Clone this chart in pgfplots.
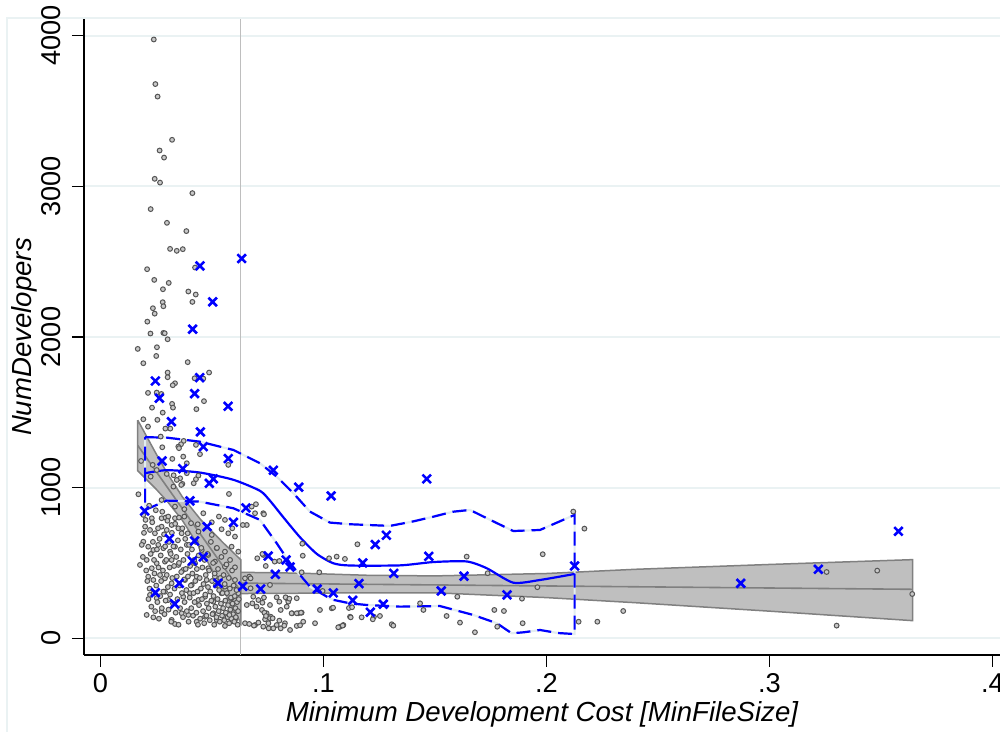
\documentclass[border=0pt]{standalone}
\usepackage{fontspec}
\setmainfont{Liberation Sans}
\usepackage{pgfplots}
\pgfplotsset{compat=1.18}
\definecolor{gridcol}{RGB}{234,242,243}
\definecolor{bandfill}{RGB}{191,191,191}
\definecolor{bandedge}{RGB}{128,128,128}
\definecolor{dotdraw}{RGB}{85,85,85}
\definecolor{dotfill}{RGB}{200,200,200}
\definecolor{vline}{RGB}{190,190,190}
\definecolor{sblue}{RGB}{0,0,255}
\definecolor{gapcol}{RGB}{226,236,240}
\begin{document}
\begin{tikzpicture}
\draw[gridcol, line width=1pt] (-38.5pt,-45pt) -- (-38.5pt,318.5pt) -- (470pt,318.5pt);
\begin{axis}[
  scale only axis, width=458pt, height=318pt,
  xmin=-0.0074, xmax=0.40336, ymin=-111, ymax=4111,
  axis x line*=bottom, axis y line*=left,
  axis line style={black, line width=0.75pt},
  xtick={0,0.1,0.2,0.3,0.4}, xticklabels={0,.1,.2,.3,.4},
  ytick={0,1000,2000,3000,4000}, yticklabels={0,1000,2000,3000,4000},
  tick align=outside, major tick length=6pt,
  tick style={black, line width=0.6pt},
  ymajorgrids, major grid style={gridcol, line width=1pt},
  tick label style={font=\fontsize{13.6}{16}\selectfont},
  xticklabel style={anchor=base, yshift=-13pt},
  yticklabel style={anchor=base, rotate=90, yshift=5.5pt},
  xlabel={Minimum Development Cost [MinFileSize]},
  ylabel={NumDevelopers},
  label style={font=\fontsize{13.8}{16}\selectfont\itshape},
  xlabel style={at={(axis description cs:0.5,-0.1053)}, anchor=base},
  ylabel style={at={(axis description cs:-0.0568,0.5)}, anchor=base, rotate=0},
  clip=false,
]
\draw[vline, line width=0.5pt] (axis cs:0.063,-111) -- (axis cs:0.063,4111);
% linear fit CI bands
\addplot[draw=bandedge, fill=bandfill, line width=0.75pt] coordinates {
(0.0167,1448) (0.025,1223) (0.030,1094) (0.0367,939) (0.045,786) (0.055,634) (0.063,520)
(0.063,100) (0.055,322) (0.045,588) (0.0367,783) (0.030,908) (0.025,989) (0.0167,1112) (0.0167,1448)};
\addplot[draw=bandedge, fill=bandfill, line width=0.75pt] coordinates {
(0.063,438) (0.09,432) (0.12,418) (0.15,414) (0.20,430) (0.24,458) (0.30,490) (0.3642,522)
(0.3642,117) (0.30,180) (0.24,236) (0.20,270) (0.15,302) (0.12,302) (0.09,299) (0.063,297) (0.063,438)};
\addplot[bandedge, line width=0.8pt] coordinates {(0.0167,1280) (0.063,310)};
\addplot[bandedge, line width=0.8pt] coordinates {(0.063,366) (0.3642,325)};
% gray scatter
\addplot[only marks, mark=*, mark size=1.2pt, mark options={draw=dotdraw, fill=dotfill, line width=0.5pt}] table {
x y
0.0239 3975
0.0246 3679
0.0256 3596
0.0321 3309
0.0265 3238
0.0285 3191
0.0243 3050
0.0267 3025
0.0412 2955
0.0225 2849
0.0298 2758
0.0385 2703
0.0312 2585
0.0342 2572
0.0369 2583
0.0424 2461
0.0209 2450
0.0241 2379
0.0306 2359
0.0280 2317
0.0394 2302
0.0427 2282
0.0279 2231
0.0412 2233
0.0235 2191
0.0282 2204
0.0243 2155
0.0210 2102
0.0224 2023
0.0282 2027
0.0288 2025
0.0301 1985
0.0167 1921
0.0253 1932
0.0250 1874
0.0192 1826
0.0391 1833
0.0301 1764
0.0301 1733
0.0334 1693
0.0324 1680
0.0422 1726
0.0461 1724
0.0487 1764
0.0213 1629
0.0273 1622
0.0252 1631
0.0464 1574
0.0231 1531
0.0321 1556
0.0325 1531
0.0430 1521
0.0279 1498
0.0192 1454
0.0255 1450
0.0213 1405
0.0291 1392
0.0313 1392
0.0270 1339
0.0373 1310
0.0361 1288
0.0277 1268
0.0349 1272
0.0352 1262
0.0428 1284
0.0446 1222
0.0371 1206
0.0387 1162
0.0322 1191
0.0182 1177
0.0234 1151
0.0573 1151
0.0225 1073
0.0252 1117
0.0297 1091
0.0387 1096
0.0328 1082
0.0357 1062
0.0342 1051
0.0367 1025
0.0362 1018
0.0327 1007
0.0428 1056
0.0439 1080
0.0418 1029
0.0170 956
0.0576 958
0.0274 918
0.0334 874
0.0376 857
0.0461 830
0.0730 830
0.0192 819
0.0202 786
0.0230 797
0.0274 797
0.0292 801
0.0304 808
0.0334 797
0.0352 801
0.0376 808
0.0406 764
0.0436 757
0.0499 770
0.0531 808
0.0558 786
0.0591 730
0.0200 741
0.0222 719
0.0244 697
0.0274 741
0.0297 719
0.0319 752
0.0349 730
0.0364 697
0.0391 697
0.0439 708
0.0499 686
0.0543 724
0.0573 697
0.0603 675
0.0693 830
0.0192 641
0.0214 608
0.0237 586
0.0259 620
0.0282 598
0.0312 575
0.0334 608
0.0387 620
0.0454 586
0.0483 553
0.0521 598
0.0558 575
0.0588 608
0.0618 575
0.0177 487
0.0207 520
0.0230 465
0.0252 498
0.0289 509
0.0319 520
0.0349 487
0.0371 454
0.0424 498
0.0483 465
0.0513 509
0.0558 475
0.0581 520
0.0603 471
0.0214 409
0.0237 387
0.0267 420
0.0289 398
0.0319 365
0.0379 387
0.0409 354
0.0431 409
0.0476 387
0.0513 409
0.0558 343
0.0603 387
0.0222 288
0.0252 266
0.0289 309
0.0304 254
0.0371 276
0.0401 299
0.0439 254
0.0469 276
0.0506 243
0.0543 299
0.0588 266
0.0618 299
0.0207 155
0.0237 139
0.0274 177
0.0319 122
0.0334 95
0.0394 155
0.0431 110
0.0469 143
0.0506 166
0.0521 122
0.0558 82
0.0603 122
0.0364 166
0.0185 620
0.0190 540
0.0195 700
0.0205 450
0.0210 380
0.0215 260
0.0218 880
0.0220 330
0.0225 560
0.0228 210
0.0232 770
0.0235 640
0.0238 300
0.0240 520
0.0242 430
0.0245 180
0.0248 850
0.0250 350
0.0253 590
0.0255 240
0.0258 730
0.0260 470
0.0262 130
0.0265 660
0.0268 280
0.0270 550
0.0272 380
0.0275 200
0.0277 840
0.0280 450
0.0282 310
0.0285 690
0.0287 160
0.0290 610
0.0292 250
0.0295 520
0.0297 420
0.0300 780
0.0302 340
0.0305 190
0.0307 640
0.0310 470
0.0312 290
0.0315 560
0.0317 110
0.0320 700
0.0322 400
0.0325 230
0.0327 610
0.0330 480
0.0332 330
0.0335 760
0.0337 170
0.0340 540
0.0342 410
0.0345 260
0.0347 650
0.0350 90
0.0352 500
0.0355 350
0.0357 200
0.0360 590
0.0362 440
0.0365 300
0.0367 730
0.0370 140
0.0372 520
0.0375 390
0.0377 240
0.0380 660
0.0382 460
0.0385 320
0.0387 180
0.0390 560
0.0392 410
0.0395 110
0.0397 620
0.0400 270
0.0402 480
0.0405 350
0.0407 200
0.0410 590
0.0412 430
0.0415 150
0.0417 300
0.0420 520
0.0422 240
0.0425 380
0.0427 640
0.0430 170
0.0432 460
0.0435 310
0.0437 90
0.0440 550
0.0442 220
0.0445 400
0.0447 130
0.0450 330
0.0452 600
0.0455 260
0.0457 470
0.0460 180
0.0462 360
0.0465 100
0.0467 520
0.0470 290
0.0472 420
0.0475 150
0.0477 230
0.0480 560
0.0482 340
0.0485 200
0.0487 450
0.0490 120
0.0492 310
0.0495 640
0.0497 250
0.0500 380
0.0502 160
0.0505 500
0.0507 280
0.0510 90
0.0512 430
0.0515 210
0.0517 350
0.0520 140
0.0522 600
0.0525 260
0.0527 460
0.0530 180
0.0532 320
0.0535 110
0.0537 400
0.0540 230
0.0542 540
0.0545 150
0.0547 300
0.0550 200
0.0552 420
0.0555 120
0.0557 360
0.0560 250
0.0562 170
0.0565 490
0.0567 300
0.0570 140
0.0572 220
0.0575 400
0.0577 100
0.0580 330
0.0582 190
0.0585 270
0.0587 130
0.0590 450
0.0592 230
0.0595 160
0.0597 350
0.0600 110
0.0602 280
0.0605 200
0.0607 140
0.0610 320
0.0612 240
0.0615 90
0.0617 180
0.0620 260
0.0578 155
0.0648 398
0.0667 409
0.0697 890
0.0678 874
0.0733 823
0.0656 752
0.0638 752
0.0703 531
0.0730 553
0.0781 509
0.0907 548
0.0981 438
0.0902 438
0.0685 276
0.0708 254
0.0733 270
0.0656 221
0.0681 232
0.0700 210
0.0724 188
0.0745 166
0.0760 221
0.0802 243
0.0808 188
0.0835 266
0.0842 243
0.0859 166
0.0887 166
0.0902 170
0.0984 188
0.1037 199
0.1119 143
0.1074 77
0.1089 88
0.0648 100
0.0667 95
0.0693 88
0.0708 104
0.0738 126
0.0753 100
0.0763 143
0.0790 88
0.0808 66
0.0827 100
0.0850 55
0.0880 82
0.0909 110
0.0962 100
0.0905 628
0.1152 624
0.0726 560
0.0802 513
0.1025 531
0.1059 542
0.1096 527
0.0741 480
0.0673 398
0.0673 332
0.0760 354
0.0996 314
0.0790 272
0.0830 272
0.0847 263
0.0880 266
0.0726 236
0.0835 210
0.1043 203
0.1114 201
0.1128 206
0.1433 232
0.1448 188
0.1552 148
0.0735 170
0.0742 148
0.0760 133
0.0772 133
0.0802 117
0.0857 166
0.0880 166
0.0899 170
0.0688 84
0.0730 77
0.0754 66
0.0775 66
0.0824 84
0.0895 86
0.1066 73
0.1086 84
0.1171 139
0.1226 143
0.1253 148
0.1306 93
0.1313 84
0.1122 139
0.1221 126
0.1642 542
0.1736 432
0.1983 558
0.2120 841
0.2170 728
0.1600 276
0.1890 263
0.1959 339
0.1612 104
0.1679 40
0.1766 188
0.1809 181
0.1779 77
0.1893 100
0.2144 110
0.2228 110
0.2344 181
0.3256 440
0.3301 84
0.3483 449
0.3640 294
};
% blue crosses
\addplot[only marks, mark=x, mark size=3pt, mark options={sblue, line width=1.3pt}] table {
x y
0.0446 2472
0.0633 2521
0.0503 2233
0.0413 2052
0.0246 1708
0.0445 1730
0.0264 1594
0.0422 1624
0.0572 1540
0.0318 1438
0.0448 1370
0.0461 1272
0.0276 1177
0.0573 1193
0.0369 1126
0.0775 1115
0.0506 1058
0.0488 1029
0.0889 1003
0.1034 945
0.0401 912
0.0198 845
0.0652 865
0.0596 770
0.0478 741
0.0309 661
0.0422 646
0.0461 540
0.0412 513
0.0752 546
0.0832 520
0.0850 473
0.0784 425
0.0353 365
0.0527 365
0.0638 345
0.0718 327
0.0246 303
0.0333 228
0.0972 327
0.1044 301
0.1463 1058
0.1282 684
0.1232 622
0.1472 544
0.1176 500
0.1315 431
0.1630 412
0.1159 363
0.1528 314
0.1823 288
0.1131 252
0.1268 226
0.1210 173
0.2126 480
0.2871 365
0.3219 458
0.3578 710
};
% local polynomial CI (dashed, with light gaps)
\addplot[gapcol, line width=1.1pt] coordinates {
(0.0200,1335) (0.0297,1332) (0.0446,1305) (0.0596,1250) (0.0715,1162) (0.0790,1073) (0.0865,963) (0.0939,841) (0.1029,768) (0.1119,757) (0.1298,746) (0.1400,775) (0.1492,807) (0.1580,840) (0.1657,852) (0.1732,797) (0.1851,712) (0.1971,719) (0.2126,819)
(0.2126,28) (0.2050,35) (0.1971,55) (0.1900,40) (0.1844,33) (0.1777,100) (0.1671,155) (0.1522,214) (0.1343,210) (0.1193,221) (0.1119,232) (0.1044,255) (0.1014,277) (0.0939,343) (0.0850,498) (0.0790,631) (0.0715,786) (0.0596,863) (0.0446,907) (0.0297,914) (0.0200,852) (0.0200,1335)};
\addplot[sblue, line width=1.1pt, dash pattern=on 7pt off 3.5pt] coordinates {
(0.0200,1335) (0.0297,1332) (0.0446,1305) (0.0596,1250) (0.0715,1162) (0.0790,1073) (0.0865,963) (0.0939,841) (0.1029,768) (0.1119,757) (0.1298,746) (0.1400,775) (0.1492,807) (0.1580,840) (0.1657,852) (0.1732,797) (0.1851,712) (0.1971,719) (0.2126,819)
(0.2126,28) (0.2050,35) (0.1971,55) (0.1900,40) (0.1844,33) (0.1777,100) (0.1671,155) (0.1522,214) (0.1343,210) (0.1193,221) (0.1119,232) (0.1044,255) (0.1014,277) (0.0939,343) (0.0850,498) (0.0790,631) (0.0715,786) (0.0596,863) (0.0446,907) (0.0297,914) (0.0200,852) (0.0200,1335)};
\addplot[sblue, line width=1.1pt, smooth, tension=0.4] coordinates {
(0.0200,1096) (0.0297,1116) (0.0446,1100) (0.0596,1052) (0.0715,979) (0.0760,913) (0.0820,803) (0.0895,670) (0.0970,560) (0.1044,498) (0.1119,483) (0.1344,484) (0.1492,506) (0.1642,510) (0.1732,465) (0.1851,369) (0.1971,387) (0.2126,427)};
\end{axis}
\pgfresetboundingbox
\useasboundingbox (-42pt,-38.5pt) rectangle (458pt,327.5pt);
\end{tikzpicture}
\end{document}
